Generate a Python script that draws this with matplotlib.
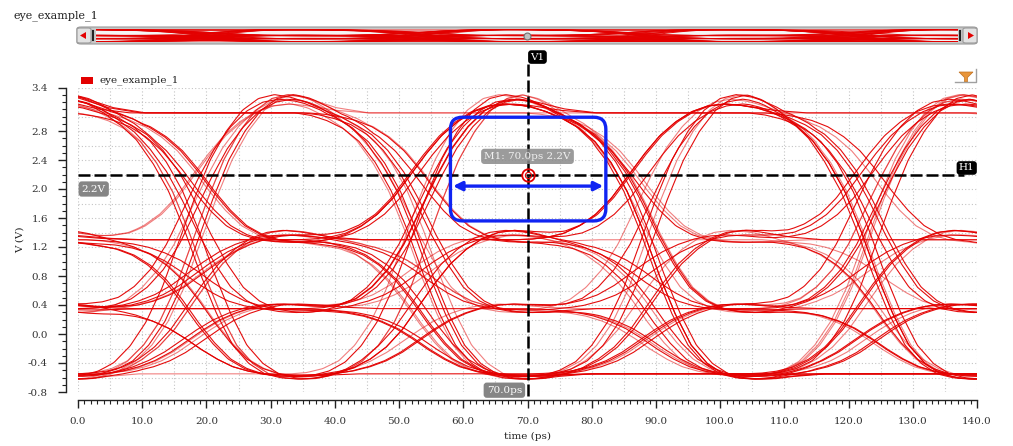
import numpy as np
import matplotlib
matplotlib.use("Agg")
import matplotlib.pyplot as plt
from matplotlib.patches import FancyBboxPatch, Polygon, Rectangle
from matplotlib.lines import Line2D
from matplotlib.ticker import MultipleLocator, FixedLocator
from matplotlib.transforms import IdentityTransform

# ---------------- data ----------------
series_name = "eye_example_1"
levels = [-0.55, 0.35, 1.30, 3.05]          # PAM4 levels (V)
symbols = [
    3, 0, 3, 2, 1, 0, 0, 3,  2, 3, 3, 1, 2, 0, 1, 3,
    0, 2, 1, 1, 3, 0, 0, 2,  3, 3, 3, 3, 2, 0, 3, 1,
    0, 1, 2, 3, 0, 3, 2, 2,  1, 0, 2, 3, 1, 3, 0, 0,
    1, 2, 0, 3, 3, 0, 1, 1,  2, 2, 3, 0, 2, 1, 3, 2,
    0, 0, 1, 3, 1, 2, 3, 0,  3, 1, 0, 2, 0, 3, 1, 2,
    2, 0, 0, 0, 3, 3, 2, 1,  1, 3, 0, 1, 0, 2, 3, 3,
    0, 3, 1, 0, 3, 2, 0, 1,  2, 1, 2, 3, 2, 0, 3, 0,
    1, 1, 0, 0, 2, 2, 3, 1,  3, 0, 2, 0, 1, 3, 3, 2,
    0, 1, 3, 0, 0, 3, 1, 2,  2, 3, 0, 1, 1, 0, 3, 0,
    3, 2, 2, 0, 3, 1, 1, 3,  0, 2, 1, 0, 1, 2, 0, 3,
    2, 0, 1, 3, 3, 1, 0, 2,  3, 0, 0, 1, 2, 3, 1, 0,
    1, 3, 2, 0, 2, 1, 0, 3,  3, 2, 0, 1, 3, 0, 2, 2,
    0, 1, 1, 3, 2, 3, 0, 0]
edge_skew_ps = [0.0, 1.3, -0.9, 0.5, -1.6, 0.8, -0.3, 1.8, -1.2, 0.2, 1.0, -0.6, 1.5, -1.9, 0.7]
ui_ps = 35.0
window_ps = 140.0
step_tau = [0, 2.5, 5, 7.5, 10, 12.5, 15, 17.5, 20, 22.5, 25, 27.5, 30,
            32.5, 35, 37.5, 40, 42.5, 45, 47.5, 50]
rise_frac = [0.00, 0.005, 0.02, 0.05, 0.11, 0.20, 0.33, 0.50, 0.67, 0.82, 0.93,
             1.01, 1.055, 1.07, 1.06, 1.04, 1.02, 1.01, 1.00, 1.00, 1.00]
fall_frac = [0.00, 0.01, 0.03, 0.06, 0.11, 0.19, 0.30, 0.45, 0.62, 0.77, 0.89,
             0.96, 1.00, 1.015, 1.02, 1.018, 1.01, 1.005, 1.00, 1.00, 1.00]
x_ticks = [0, 10, 20, 30, 40, 50, 60, 70, 80, 90, 100, 110, 120, 130, 140]
y_ticks = [-0.8, -0.4, 0.0, 0.4, 0.8, 1.2, 1.6, 2.0, 2.4, 2.8, 3.4]
marker_t = 70.0
marker_v = 2.2
eye_t = [58.0, 82.2]
eye_v = [1.56, 2.99]
eye_arrow_v = 2.04

# ---------------- waveform ----------------
t_full = np.arange(0, len(symbols) * ui_ps + 0.01, 0.25)
v_full = np.full_like(t_full, levels[symbols[0]])
for k in range(1, len(symbols)):
    d = levels[symbols[k]] - levels[symbols[k - 1]]
    if d == 0:
        continue
    prof = rise_frac if d > 0 else fall_frac
    t_edge = k * ui_ps + edge_skew_ps[k % len(edge_skew_ps)]
    v_full += d * np.interp(t_full - t_edge, step_tau, prof, left=0.0, right=1.0)

plt.rcParams['font.family'] = ['DejaVu Serif']
plt.rcParams['font.size'] = 7.5

W, H = 1013, 446
fig = plt.figure(figsize=(W / 100, H / 100), dpi=100)
fig.patch.set_facecolor('white')

def fx(px):
    return px / W

def fy(py):
    return 1 - py / H

ax = fig.add_axes([fx(78), fy(392), fx(977) - fx(78), fy(87.5) - fy(392)])
ax.set_xlim(0, 140)
ax.set_ylim(-0.8, 3.4)

# scrollbar overview axes
sax = fig.add_axes([fx(96), fy(42), fx(958) - fx(96), fy(29) - fy(42)])
sax.set_zorder(3)
sax.set_facecolor('#f4f4f4')
sax.set_xlim(0, 140)
sax.set_ylim(-0.7, 3.35)

# grid
for gx in np.arange(0, 140.01, 5):
    ax.axvline(gx, color='#c4c4c4', lw=0.8, ls=(0, (1, 2)), zorder=0)
for gy in np.arange(-0.8, 3.401, 0.2):
    ax.axhline(gy, color='#c4c4c4', lw=0.8, ls=(0, (1, 2)), zorder=0)

red = '#e30000'
nseg = int(len(symbols) * ui_ps // window_ps)
for m in range(1, nseg):
    t0 = m * window_ps
    sel = (t_full >= t0 - 1e-9) & (t_full <= t0 + window_ps + 1e-9)
    a = 0.95 if m % 3 else 0.5
    ax.plot(t_full[sel] - t0, v_full[sel], color=red, lw=0.8, alpha=a, zorder=2)
    sax.plot(t_full[sel] - t0, v_full[sel], color=red, lw=0.7, alpha=a)

# axes styling
for s in ['top', 'right']:
    ax.spines[s].set_visible(False)
ax.spines['left'].set_position(('outward', 12 * 0.72))
ax.spines['bottom'].set_position(('outward', 8 * 0.72))
for s in ['left', 'bottom']:
    ax.spines[s].set_color('#222222')
    ax.spines[s].set_linewidth(1.0)
ax.xaxis.set_major_locator(FixedLocator(x_ticks))
ax.xaxis.set_minor_locator(MultipleLocator(1))
ax.yaxis.set_major_locator(FixedLocator(y_ticks))
ax.yaxis.set_minor_locator(MultipleLocator(0.1))
ax.set_xticklabels([f"{v:.1f}" for v in x_ticks])
ax.set_yticklabels([f"{v:.1f}" for v in y_ticks])
ax.tick_params(which='major', direction='out', length=6, width=1.0,
               colors='#222222', labelcolor='#333333', labelsize=7.5)
ax.tick_params(which='minor', direction='out', length=3, width=0.8, colors='#222222')
ax.tick_params(axis='y', pad=7)
ax.tick_params(axis='x', pad=6)

fig.text(fx(527), fy(436), 'time (ps)', ha='center', va='center', color='#222222')
fig.text(fx(20), fy(240), 'V (V)', ha='center', va='center', rotation=90, color='#222222')

# markers / cursors
dash = (0, (4.8, 1.6))
ax.plot([0, 138], [marker_v, marker_v], color='black', lw=1.8, ls=dash, zorder=5)
ax.plot([marker_t, marker_t], [3.72, -0.885], color='black', lw=1.8, ls=dash,
        zorder=5, clip_on=False)

ax.text(71.55, 3.82, 'V1', ha='center', va='center', color='white', fontsize=7.5,
        bbox=dict(boxstyle='round,pad=0.22,rounding_size=0.3', fc='black', ec='none'),
        clip_on=False, zorder=6)
ax.text(138.4, 2.29, 'H1', ha='center', va='center', color='white', fontsize=7.5,
        bbox=dict(boxstyle='round,pad=0.22,rounding_size=0.3', fc='black', ec='none'),
        zorder=6)
ax.text(2.45, 2.0, '2.2V', ha='center', va='center', color='white', fontsize=7.5,
        bbox=dict(boxstyle='round,pad=0.3', fc='#858585', ec='none'), zorder=6)
ax.text(66.4, -0.775, '70.0ps', ha='center', va='center', color='white', fontsize=7.5,
        bbox=dict(boxstyle='round,pad=0.3', fc='#858585', ec='none'),
        zorder=6, clip_on=False)
ax.text(70.0, 2.45, 'M1: 70.0ps 2.2V', ha='center', va='center', color='#f0f0f0',
        fontsize=7.5,
        bbox=dict(boxstyle='round,pad=0.3', fc='#8a8a8a', ec='none', alpha=0.85),
        zorder=6)
ax.plot([marker_t], [marker_v], marker='o', ms=9, mfc='none', mec=red, mew=1.3, zorder=7)
ax.plot([marker_t], [marker_v], marker='o', ms=4.5, mfc='none', mec=red, mew=0.8, zorder=7)

# eye annotation box (rounded, in pixels)
fig.canvas.draw()
p0 = ax.transData.transform((eye_t[0], eye_v[0]))
p1 = ax.transData.transform((eye_t[1], eye_v[1]))
blue = '#1024f2'
box = FancyBboxPatch((p0[0], p0[1]), p1[0] - p0[0], p1[1] - p0[1],
                     boxstyle='round,pad=0,rounding_size=12', fc='none', ec=blue,
                     lw=2.4, transform=IdentityTransform(), zorder=8)
fig.add_artist(box)
ax.annotate('', xy=(58.4, eye_arrow_v), xytext=(81.8, eye_arrow_v),
            arrowprops=dict(arrowstyle='<|-|>', color=blue, lw=2.4,
                            mutation_scale=13, shrinkA=0, shrinkB=0), zorder=8)

# title + legend
fig.text(fx(13), fy(16), series_name, ha='left', va='center', color='#222222', fontsize=8)
fig.add_artist(Rectangle((fx(81), fy(84)), fx(12), fy(77) - fy(84),
                         transform=fig.transFigure, fc=red, ec='none'))
fig.text(fx(99), fy(80.5), series_name, ha='left', va='center', color='#222222', fontsize=7.5)

# filter icon
fig.add_artist(Polygon([(fx(959), fy(72)), (fx(973), fy(72)), (fx(967.5), fy(77.5)),
                        (fx(967.5), fy(82)), (fx(964.5), fy(82)), (fx(964.5), fy(77.5))],
                       closed=True, transform=fig.transFigure, fc='#e8953a', ec='#c07020', lw=0.5))
fig.add_artist(Line2D([fx(955), fx(976), fx(976)], [fy(82), fy(82), fy(69)],
                      transform=fig.transFigure, color='#a0a0a0', lw=1))

# scrollbar frame
fig.add_artist(FancyBboxPatch((fx(77), fy(44)), fx(977) - fx(77), fy(27) - fy(44),
                              boxstyle='round,pad=0,rounding_size=0.004',
                              transform=fig.transFigure, fc='#c8c8c8', ec='#9a9a9a',
                              lw=0.8, zorder=-2))
sax.set_xticks([]); sax.set_yticks([])
for s in sax.spines.values():
    s.set_visible(False)
for bx in (77, 963):
    fig.add_artist(FancyBboxPatch((fx(bx), fy(43)), fx(14), fy(28) - fy(43),
                                  boxstyle='round,pad=0,rounding_size=0.003',
                                  transform=fig.transFigure, fc='#e2e2e2', ec='#9a9a9a',
                                  lw=0.8, zorder=4))
fig.add_artist(Polygon([(fx(80), fy(35.5)), (fx(86), fy(32)), (fx(86), fy(39))],
                       transform=fig.transFigure, fc=red, ec='none', zorder=5))
fig.add_artist(Polygon([(fx(974), fy(35.5)), (fx(968), fy(32)), (fx(968), fy(39))],
                       transform=fig.transFigure, fc=red, ec='none', zorder=5))
for hx in (93, 960):
    fig.add_artist(Line2D([fx(hx), fx(hx)], [fy(31), fy(40)], transform=fig.transFigure,
                          color='#222222', lw=1.5, zorder=5))
fig.add_artist(Line2D([fx(527)], [fy(35.5)], transform=fig.transFigure, marker='o',
                      ms=5, mfc='#c0c0c0', mec='#707070', mew=0.8, zorder=5))

fig.savefig('out.png', dpi=100, facecolor='white')
